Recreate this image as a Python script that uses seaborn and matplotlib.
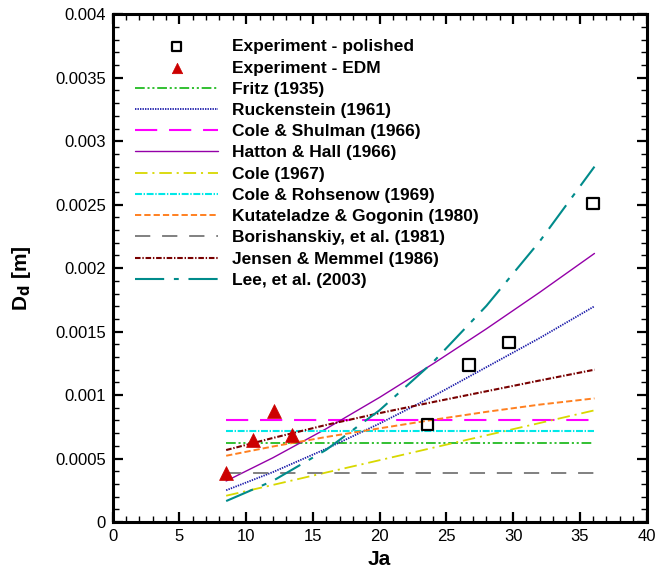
import numpy as np
import pandas as pd
import matplotlib
matplotlib.use("Agg")
import matplotlib.pyplot as plt
import seaborn as sns
from matplotlib.ticker import MultipleLocator, FormatStrFormatter

# ---- data ----
ja_polished = [23.6, 26.7, 29.7, 36.0]
dd_polished = [0.000768, 0.001236, 0.001415, 0.00251]

ja_edm = [8.5, 10.5, 12.1, 13.4]
dd_edm = [0.000385, 0.000644, 0.000875, 0.000683]

ja_corr = [8.5, 12, 16, 20, 24, 28, 32, 36.1]
fritz = [0.00062, 0.00062, 0.00062, 0.00062, 0.00062, 0.00062, 0.00062, 0.00062]
ruckenstein = [0.000250, 0.000393, 0.000577, 0.000776, 0.000990, 0.00122, 0.00145, 0.00170]
cole_shulman = [0.0008, 0.0008, 0.0008, 0.0008, 0.0008, 0.0008, 0.0008, 0.0008]
hatton_hall = [0.000323, 0.000506, 0.000735, 0.000982, 0.001246, 0.001522, 0.00181, 0.002116]
cole_1967 = [0.000207, 0.000292, 0.000390, 0.000487, 0.000585, 0.000683, 0.000780, 0.00088]
cole_rohsenow = [0.00072, 0.00072, 0.00072, 0.00072, 0.00072, 0.00072, 0.00072, 0.00072]
kutateladze = [0.000522, 0.000595, 0.000670, 0.000738, 0.000805, 0.000868, 0.000925, 0.000974]
borishanskiy = [0.00039, 0.00039, 0.00039, 0.00039, 0.00039, 0.00039, 0.00039, 0.00039]
jensen_memmel = [0.000567, 0.000662, 0.000765, 0.000858, 0.000945, 0.001030, 0.001115, 0.0012]
lee = [0.000165, 0.000324, 0.000569, 0.000881, 0.001259, 0.001703, 0.002212, 0.0028]

labels = ["Fritz (1935)", "Ruckenstein (1961)", "Cole & Shulman (1966)",
          "Hatton & Hall (1966)", "Cole (1967)", "Cole & Rohsenow (1969)",
          "Kutateladze & Gogonin (1980)", "Borishanskiy, et al. (1981)",
          "Jensen & Memmel (1986)", "Lee, et al. (2003)"]
series = [fritz, ruckenstein, cole_shulman, hatton_hall, cole_1967, cole_rohsenow,
          kutateladze, borishanskiy, jensen_memmel, lee]

styles = {
    "Fritz (1935)": dict(color="#22bb22", lw=1.3, ls=(0, (7, 2, 1.5, 2, 1.5, 2))),
    "Ruckenstein (1961)": dict(color="#1c1caa", lw=1.3, ls=(0, (1, 0.8))),
    "Cole & Shulman (1966)": dict(color="#ff00ff", lw=1.5, ls=(0, (16, 8.5))),
    "Hatton & Hall (1966)": dict(color="#9400a8", lw=1.0, ls="-"),
    "Cole (1967)": dict(color="#d8d800", lw=1.3, ls=(0, (9, 3.5, 1.5, 3.5))),
    "Cole & Rohsenow (1969)": dict(color="#00e8e8", lw=1.5, ls=(0, (5, 1.2, 1, 1.2))),
    "Kutateladze & Gogonin (1980)": dict(color="#ff8020", lw=1.4, ls=(0, (4.5, 2.2))),
    "Borishanskiy, et al. (1981)": dict(color="#808080", lw=1.4, ls=(0, (11, 8.5))),
    "Jensen & Memmel (1986)": dict(color="#780000", lw=1.5, ls=(0, (4, 1.3, 1, 1.3))),
    "Lee, et al. (2003)": dict(color="#008b8b", lw=1.5, ls=(0, (21, 7, 3.5, 7))),
}

sns.set_style("ticks")
plt.rcParams["font.family"] = ["Liberation Sans", "DejaVu Sans"]
plt.rcParams["lines.scale_dashes"] = False
plt.rcParams["text.color"] = "black"
plt.rcParams["axes.labelcolor"] = "black"
plt.rcParams["xtick.color"] = "black"
plt.rcParams["ytick.color"] = "black"
plt.rcParams["axes.edgecolor"] = "black"

fig = plt.figure(figsize=(6.67, 5.73), dpi=100)
ax = fig.add_axes([0.169, 0.089, 0.8003, 0.886])

df_pol = pd.DataFrame({"Ja": ja_polished, "Dd": dd_polished})
df_edm = pd.DataFrame({"Ja": ja_edm, "Dd": dd_edm})

sns.scatterplot(data=df_pol, x="Ja", y="Dd", ax=ax, marker="s", s=70,
                facecolor="none", edgecolor="black", linewidth=1.6,
                label="Experiment - polished", zorder=5)
sns.scatterplot(data=df_edm, x="Ja", y="Dd", ax=ax, marker="^", s=100,
                color="#cc0000", edgecolor="#cc0000", linewidth=0.5,
                label="Experiment - EDM", zorder=5)

for lab, vals in zip(labels, series):
    st = styles[lab]
    sns.lineplot(x=ja_corr, y=vals, ax=ax, color=st["color"], linewidth=st["lw"],
                 linestyle=st["ls"], label=lab, zorder=3)

ax.set_xlim(0, 40)
ax.set_ylim(0, 0.004)
ax.xaxis.set_major_locator(MultipleLocator(5))
ax.xaxis.set_minor_locator(MultipleLocator(1))
ax.yaxis.set_major_locator(MultipleLocator(0.0005))
ax.yaxis.set_minor_locator(MultipleLocator(0.0001))
ax.xaxis.set_major_formatter(FormatStrFormatter("%g"))
ax.yaxis.set_major_formatter(FormatStrFormatter("%g"))

ax.tick_params(which="both", direction="in", top=True, right=True,
               labelsize=12, colors="black")
ax.tick_params(which="major", length=7, width=1.6, pad=5)
ax.tick_params(which="minor", length=4, width=1.0)
for sp in ax.spines.values():
    sp.set_linewidth(2.2)
    sp.set_color("black")

ax.set_xlabel("Ja", fontsize=15, fontweight="bold", labelpad=4)
ax.set_ylabel(r"D$_\mathbf{d}$ [m]", fontsize=15, fontweight="bold")
ax.yaxis.set_label_coords(-0.15, 0.48)

handles, labs = ax.get_legend_handles_labels()
leg = ax.legend(handles, labs, loc="upper left", bbox_to_anchor=(0.042, 0.951),
                frameon=False, prop={"weight": "bold", "size": 12.5},
                handlelength=4.8, handletextpad=0.8, labelspacing=0.35,
                borderaxespad=0, borderpad=0, markerscale=0.75)

fig.savefig("out.png", dpi=100)
